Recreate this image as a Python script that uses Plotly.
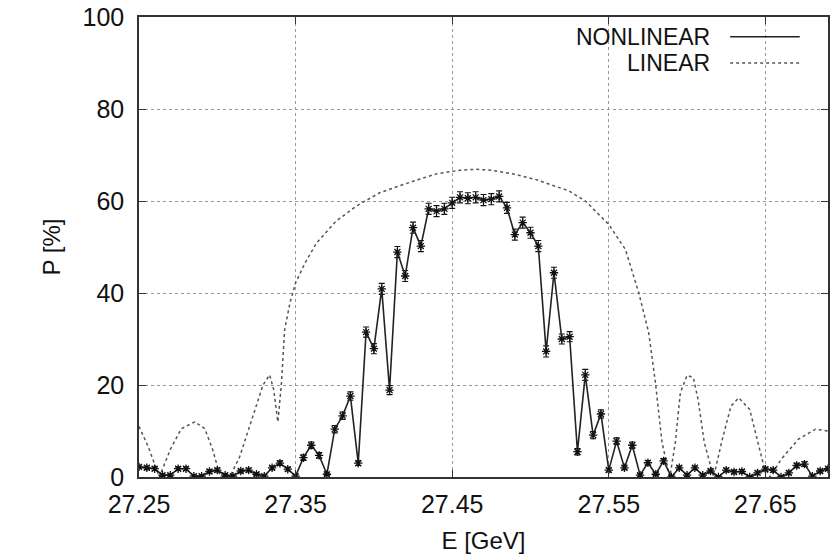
import plotly.graph_objects as go

# ---------------- data ----------------
E_start = 27.25
E_step = 0.005
nonlin_P = [2.2, 2.0, 1.8, 0.4, 0.4, 1.8, 1.8, 0.2, 0.2, 1.2, 1.5, 0.4, 0.2, 1.3, 1.5, 0.6, 0.2, 2.0, 3.0, 1.7, 0.2,
            4.2, 6.9, 4.7, 0.6, 10.4, 13.3, 17.6, 3.0, 31.5, 27.9, 40.9, 18.9, 48.9, 43.7, 54.2, 50.2, 58.3, 57.8,
            58.3, 59.6, 60.8, 60.6, 60.8,
            60.2, 60.4, 61.0, 58.5, 52.7, 55.3, 53.1, 50.2, 27.3, 44.4, 30.0, 30.5, 5.5, 22.2, 9.1, 13.7, 1.5,
            7.8, 2.0, 6.9, 0.4, 3.1, 0.6, 3.5, 0.0, 2.0, 0.4, 2.0, 0.4, 1.3, 0.0, 1.5, 1.1, 1.2, 0.0, 0.9, 1.7,
            1.5, 0.0, 0.9, 2.5, 2.8, 0.2, 1.3, 1.8]
nonlin_E = [round(E_start + E_step * i, 4) for i in range(len(nonlin_P))]
nonlin_err = [0.4, 0.4, 0.4, 0.3, 0.3, 0.4, 0.4, 0.3, 0.3, 0.4, 0.4, 0.3, 0.3, 0.4, 0.4, 0.3, 0.3, 0.4, 0.5, 0.4, 0.3,
              0.6, 0.7, 0.6, 0.3, 0.8, 0.8, 0.9, 0.5, 1.1, 1.1, 1.2, 1.0, 1.2, 1.2, 1.2, 1.2, 1.2, 1.2,
              1.2, 1.2, 1.2, 1.2, 1.2,
              1.2, 1.2, 1.2, 1.2, 1.2, 1.2, 1.2, 1.2, 1.2, 1.2, 1.1, 1.1, 0.7, 1.2, 0.8, 0.9, 0.4,
              0.7, 0.4, 0.7, 0.3, 0.5, 0.3, 0.5, 0.3, 0.4, 0.3, 0.4, 0.3, 0.4, 0.3, 0.4, 0.4, 0.4, 0.3, 0.4, 0.4,
              0.4, 0.3, 0.4, 0.5, 0.5, 0.3, 0.4, 0.4]

lin_E = [27.25, 27.256, 27.263, 27.270, 27.277, 27.2857, 27.292, 27.297, 27.302, 27.308, 27.3143, 27.3228,
         27.3292, 27.3334, 27.336, 27.3387, 27.341, 27.343, 27.3465, 27.35, 27.356, 27.3634, 27.3761, 27.3889,
         27.4037, 27.425, 27.44, 27.455, 27.465, 27.475, 27.49, 27.5031, 27.5245, 27.5351, 27.55, 27.5606,
         27.5691, 27.5755, 27.5798, 27.584, 27.589, 27.5925, 27.5957, 27.6, 27.604, 27.607, 27.611, 27.617,
         27.622, 27.628, 27.633, 27.640, 27.645, 27.649, 27.653, 27.660, 27.671, 27.682, 27.69]
lin_P = [11.0, 6.5, 0.0, 6.0, 10.5, 12.0, 10.5, 6.0, 0.0, 0.0, 4.4, 13.1,
         20.0, 22.2, 19.0, 12.0, 20.5, 32.0, 38.0, 42.2, 46.5, 50.9, 55.7, 58.9,
         61.8, 64.3, 65.9, 66.7, 66.9, 66.7, 65.8, 64.7, 62.2, 60.0, 54.9, 49.5,
         40.1, 31.4, 20.5, 7.5, 0.0, 7.5, 18.3, 22.1, 21.6, 16.9, 7.5, 0.0,
         7.5, 15.4, 17.2, 14.7, 7.5, 2.4, 0.0, 3.8, 8.2, 10.4, 10.0]

x_ticks = [27.25, 27.35, 27.45, 27.55, 27.65]
x_tick_labels = ["27.25", "27.35", "27.45", "27.55", "27.65"]
y_ticks = [0, 20, 40, 60, 80, 100]
legend_names = ["NONLINEAR", "LINEAR"]

FONT = "Liberation Sans, Arial, sans-serif"

fig = go.Figure()
fig.add_trace(go.Scatter(
    x=lin_E, y=lin_P, mode="lines", name=legend_names[1],
    line=dict(color="#555555", width=1.5, dash="dot"), showlegend=False))
fig.add_trace(go.Scatter(
    x=nonlin_E, y=nonlin_P, mode="lines+markers", name=legend_names[0],
    line=dict(color="#222222", width=1.6),
    marker=dict(symbol="asterisk-open", size=7, color="#111111", line=dict(color="#111111", width=1.3)),
    error_y=dict(type="data", array=nonlin_err, visible=True, color="#111111", thickness=1.1, width=3),
    showlegend=False))

axis_common = dict(
    showline=True, linecolor="#333333", linewidth=1.5, mirror="allticks",
    ticks="inside", ticklen=7, tickcolor="#333333", tickwidth=1.2,
    showgrid=True, gridcolor="#999999", griddash="dot", gridwidth=1,
    zeroline=False, automargin=False,
    tickfont=dict(family=FONT, size=25, color="#111111"),
)

fig.update_xaxes(range=[27.25, 27.69], tickvals=x_ticks, ticktext=x_tick_labels,
                 title=dict(text="E [GeV]", font=dict(family=FONT, size=24, color="#111111")),
                 ticklabelstandoff=4, **axis_common)
fig.update_yaxes(range=[0, 100], tickvals=y_ticks,
                 title=dict(text="P [%]", font=dict(family=FONT, size=24, color="#111111")),
                 ticklabelstandoff=8, **axis_common)

# gnuplot-style key: text followed by line sample
key_y = [0.957, 0.9]
key_dash = ["solid", "dot"]
key_col = ["#222222", "#555555"]
for name, ky, dsh, col in zip(legend_names, key_y, key_dash, key_col):
    fig.add_annotation(xref="paper", yref="paper", x=0.832, y=ky, text=name, showarrow=False,
                       xanchor="right", yanchor="middle", font=dict(family=FONT, size=23, color="#111111"))
    fig.add_shape(type="line", xref="paper", yref="paper", x0=0.858, x1=0.959, y0=ky, y1=ky,
                  line=dict(color=col, width=1.4, dash=dsh))

fig.update_layout(
    width=832, height=558,
    margin=dict(l=139, r=4, t=17, b=81),
    paper_bgcolor="white", plot_bgcolor="white",
    showlegend=False,
)

fig.write_html("out.html", config={"displayModeBar": False},
               post_script="document.body.style.margin='0';document.body.style.overflow='hidden';")
